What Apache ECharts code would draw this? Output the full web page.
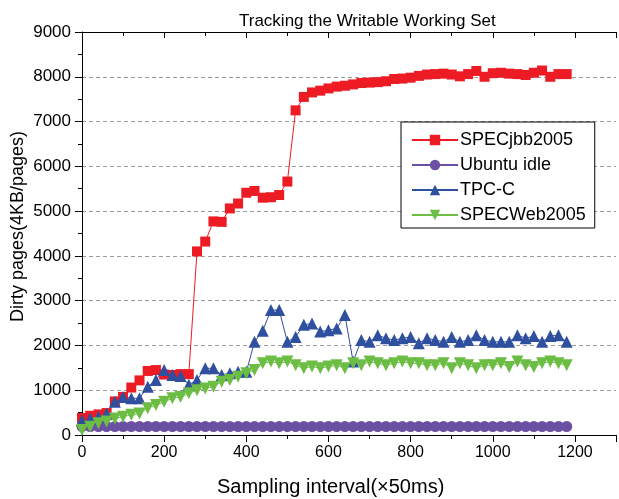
<!DOCTYPE html>
<html>
<head>
<meta charset="utf-8">
<script src="https://cdn.jsdelivr.net/npm/echarts@6/dist/echarts.min.js"></script>
<style>
  html, body { margin: 0; padding: 0; background: #fff; }
  #chart { width: 619px; height: 499px; }
</style>
</head>
<body>
<div id="chart"></div>
<script>
// Sampling points (units of 50 ms)
const samples = [0, 20, 40, 60, 80, 100, 120, 140, 160, 180,
  200, 220, 240, 260, 280, 300, 320, 340, 360, 380,
  400, 420, 440, 460, 480, 500, 520, 540, 560, 580,
  600, 620, 640, 660, 680, 700, 720, 740, 760, 780,
  800, 820, 840, 860, 880, 900, 920, 940, 960, 980,
  1000, 1020, 1040, 1060, 1080, 1100, 1120, 1140, 1160, 1180];

// Dirty pages (4KB pages) per workload
const specjbb = [380, 430, 460, 490, 750, 850, 1060, 1220, 1430, 1450,
  1350, 1340, 1360, 1360, 4100, 4320, 4770, 4760, 5060, 5170,
  5410, 5450, 5300, 5310, 5360, 5660, 7250, 7550, 7650, 7690,
  7740, 7780, 7800, 7830, 7860, 7870, 7880, 7900, 7950, 7960,
  7980, 8020, 8050, 8060, 8070, 8050, 8010, 8060, 8130, 8000,
  8080, 8090, 8070, 8060, 8040, 8090, 8140, 8000, 8060, 8060];

const ubuntuIdle = [190, 190, 190, 190, 190, 190, 190, 190, 190, 190,
  190, 190, 190, 190, 190, 190, 190, 190, 190, 190,
  190, 190, 190, 190, 190, 190, 190, 190, 190, 190,
  190, 190, 190, 190, 190, 190, 190, 190, 190, 190,
  190, 190, 190, 190, 190, 190, 190, 190, 190, 190,
  190, 190, 190, 190, 190, 190, 190, 190, 190, 190];

const tpcc = [330, 370, 410, 480, 740, 850, 820, 820, 1080, 1230,
  1450, 1340, 1320, 1120, 1230, 1490, 1490, 1340, 1380, 1410,
  1410, 2080, 2330, 2790, 2790, 2080, 2190, 2460, 2490, 2310,
  2340, 2380, 2680, 1640, 2120, 2080, 2230, 2160, 2120, 2160,
  2190, 2050, 2160, 2120, 2080, 2190, 2080, 2120, 2230, 2120,
  2080, 2080, 2080, 2230, 2160, 2210, 2080, 2210, 2230, 2080];

const specweb = [110, 185, 260, 300, 370, 410, 450, 480, 600, 670,
  740, 820, 850, 930, 1000, 1040, 1080, 1190, 1230, 1300,
  1380, 1450, 1600, 1640, 1600, 1640, 1560, 1490, 1530, 1490,
  1530, 1560, 1490, 1600, 1560, 1640, 1600, 1560, 1600, 1640,
  1600, 1600, 1560, 1560, 1600, 1490, 1600, 1560, 1490, 1560,
  1560, 1600, 1520, 1640, 1560, 1520, 1600, 1640, 1600, 1560];

const xTicks = [0, 200, 400, 600, 800, 1000, 1200];
const yTicks = [0, 1000, 2000, 3000, 4000, 5000, 6000, 7000, 8000, 9000];

const FONT = '"Liberation Sans", Arial, Helvetica, sans-serif';

function pairs(ys) {
  return samples.map((x, i) => [x, ys[i]]);
}

function lineSeries(name, ys, color, symbol, size) {
  return {
    name: name,
    type: 'line',
    data: pairs(ys),
    symbol: symbol,
    symbolSize: size,
    showAllSymbol: true,
    lineStyle: { color: color, width: 1 },
    itemStyle: { color: color, borderWidth: 0 },
    emphasis: { disabled: true }
  };
}

const chart = echarts.init(document.getElementById('chart'), null, { renderer: 'canvas' });

chart.setOption({
  animation: false,
  backgroundColor: '#fff',
  textStyle: { fontFamily: FONT },
  title: {
    text: 'Tracking the Writable Working Set',
    left: 234,
    top: 8,
    textStyle: { fontFamily: FONT, fontSize: 17, fontWeight: 'normal', color: '#000' }
  },
  grid: { left: 82, top: 32, right: 0, bottom: 64, containLabel: false },
  legend: {
    orient: 'vertical',
    left: 401,
    top: 122,
    padding: [9, 9, 4, 10],
    itemWidth: 46,
    itemHeight: 13,
    itemGap: 7,
    borderColor: '#000',
    borderWidth: 1,
    backgroundColor: '#fff',
    textStyle: { fontFamily: FONT, fontSize: 18, color: '#000', padding: [0, 0, 0, -3] },
    data: ['SPECjbb2005', 'Ubuntu idle', 'TPC-C', 'SPECWeb2005']
  },
  xAxis: [{
    type: 'value',
    min: 0,
    max: 1300,
    interval: 200,
    position: 'bottom',
    axisLine: { show: true, onZero: false, lineStyle: { color: '#000', width: 1 } },
    axisTick: { show: true, inside: false, length: 7, lineStyle: { color: '#000' } },
    minorTick: { show: true, splitNumber: 2, length: 4, lineStyle: { color: '#000' } },
    splitLine: { show: false },
    axisLabel: {
      color: '#000', fontSize: 16, fontFamily: FONT, margin: 10,
      formatter: v => (xTicks.indexOf(v) >= 0 ? String(v) : '')
    }
  }, {
    type: 'value',
    min: 0,
    max: 1300,
    interval: 200,
    position: 'top',
    axisLine: { show: true, onZero: false, lineStyle: { color: '#000', width: 1 } },
    axisTick: { show: true, inside: true, length: 6, lineStyle: { color: '#000' } },
    minorTick: { show: true, splitNumber: 2, length: 4, lineStyle: { color: '#000' } },
    splitLine: { show: false },
    axisLabel: { show: false }
  }],
  yAxis: {
    type: 'value',
    min: 0,
    max: 9000,
    interval: 1000,
    axisLine: { show: true, onZero: false, lineStyle: { color: '#000', width: 1 } },
    axisTick: { show: true, inside: false, length: 7, lineStyle: { color: '#000' } },
    minorTick: { show: true, splitNumber: 2, length: 4, lineStyle: { color: '#000' } },
    splitLine: { show: true, lineStyle: { color: '#9a9a9a', type: [4, 3], width: 1 } },
    axisLabel: {
      color: '#000', fontSize: 17, fontFamily: FONT, margin: 11,
      formatter: v => (yTicks.indexOf(v) >= 0 ? String(v) : '')
    }
  },
  graphic: [{
    type: 'text',
    left: 217,
    top: 477,
    style: { text: 'Sampling interval(×50ms)', font: '20px ' + FONT, fill: '#000' }
  }, {
    type: 'text',
    x: 9,
    y: 322,
    rotation: Math.PI / 2,
    style: { text: 'Dirty pages(4KB/pages)', font: '18px ' + FONT, fill: '#000' }
  }],
  series: [
    lineSeries('SPECjbb2005', specjbb, '#ed1c24', 'rect', 10),
    lineSeries('Ubuntu idle', ubuntuIdle, '#6a4fa3', 'circle', 11),
    lineSeries('TPC-C', tpcc, '#2f4f9f', 'triangle', 12),
    lineSeries('SPECWeb2005', specweb, '#6cbd44', 'path://M0,0 L12,0 L6,11 Z', 12)
  ]
});
</script>
</body>
</html>
